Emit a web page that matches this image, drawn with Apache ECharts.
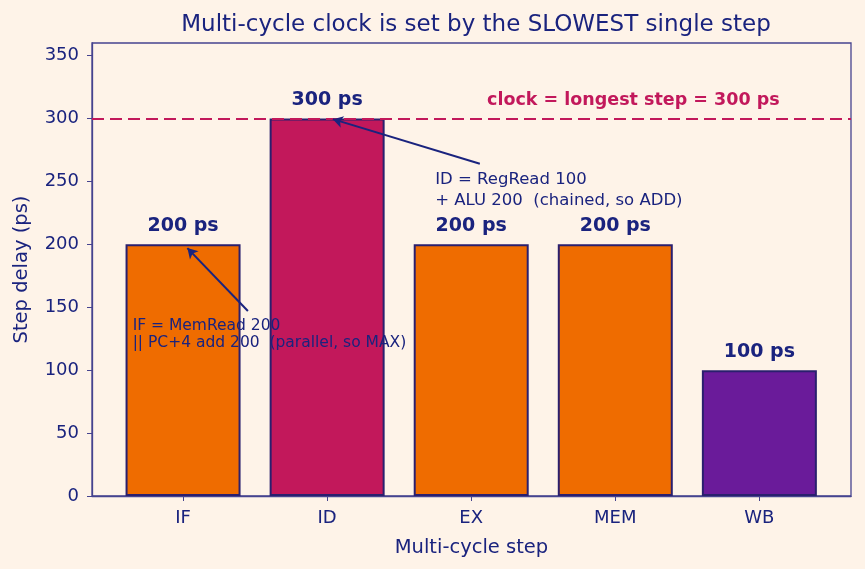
<!DOCTYPE html>
<html>
<head>
<meta charset="utf-8">
<script src="https://cdn.jsdelivr.net/npm/echarts@6/dist/echarts.min.js"></script>
<style>
  html, body { margin: 0; padding: 0; background: #fef3e8; }
  #chart { width: 865px; height: 569px; }
</style>
</head>
<body>
<div id="chart"></div>
<script>
const steps = ['IF', 'ID', 'EX', 'MEM', 'WB']
const delays = [200, 300, 200, 200, 100]
const barColors = ['#ef6c00', '#c2185b', '#ef6c00', '#ef6c00', '#6a1b9a']
const clockPs = 300
const yTicks = [0, 50, 100, 150, 200, 250, 300, 350]

const ink = '#1a237e'
const frame = '#45438f'
const font = 'DejaVu Sans'

const chart = echarts.init(document.getElementById('chart'))

const option = {
  backgroundColor: '#fef3e8',
  animation: false,
  textStyle: { fontFamily: font },
  title: {
    text: 'Multi-cycle clock is set by the SLOWEST single step',
    left: 471,
    textAlign: 'center',
    top: 9,
    textStyle: { color: ink, fontSize: 23, fontWeight: 'normal', fontFamily: font }
  },
  grid: {
    left: 92, right: 14, top: 43, bottom: 73,
    show: true, borderColor: frame, borderWidth: 1.3, backgroundColor: 'transparent'
  },
  xAxis: {
    type: 'value',
    min: -0.632,
    max: 4.636,
    name: 'Multi-cycle step',
    nameLocation: 'middle',
    nameGap: 42,
    nameTextStyle: { color: ink, fontSize: 19.5, fontFamily: font },
    splitLine: { show: false },
    axisLine: { show: true, onZero: false, lineStyle: { color: frame, width: 1.3 } },
    axisTick: { show: true, customValues: [0, 1, 2, 3, 4], length: 5, lineStyle: { color: frame } },
    axisLabel: {
      customValues: [0, 1, 2, 3, 4],
      color: ink, fontSize: 18, margin: 13, fontFamily: font,
      formatter: v => steps[Math.round(v)]
    }
  },
  yAxis: {
    type: 'value',
    min: 0,
    max: 360,
    name: 'Step delay (ps)',
    nameLocation: 'middle',
    nameGap: 60,
    nameTextStyle: { color: ink, fontSize: 19.5, fontFamily: font },
    splitLine: { show: false },
    axisLine: { show: true, onZero: false, lineStyle: { color: frame, width: 1.3 } },
    axisTick: { show: true, customValues: yTicks, length: 5, lineStyle: { color: frame } },
    axisLabel: { customValues: yTicks, color: ink, fontSize: 18, margin: 13, fontFamily: font }
  },
  series: [
    {
      type: 'bar',
      barWidth: 115,
      data: delays.map((d, i) => ({
        value: [i, d],
        itemStyle: { color: barColors[i], borderColor: '#2a1f6e', borderWidth: 2 }
      })),
      label: {
        show: true,
        position: 'top',
        distance: 9,
        color: ink,
        fontSize: 19,
        fontWeight: 'bold',
        fontFamily: font,
        formatter: p => p.value[1] + ' ps'
      },
      markLine: {
        silent: true,
        symbol: ['none', 'none'],
        label: { show: false },
        lineStyle: { color: '#c2185b', type: [12, 6], width: 2.2 },
        data: [{ yAxis: clockPs }]
      },
      z: 2
    },
    {
      type: 'line',
      silent: true,
      data: [],
      markLine: {
        silent: true,
        symbol: ['none', 'arrow'],
        symbolSize: [9, 10],
        label: { show: false },
        lineStyle: { color: ink, type: 'solid', width: 2 },
        data: [
          [{ coord: [0.45, 147] }, { coord: [0.03, 197] }],
          [{ coord: [2.06, 264] }, { coord: [1.04, 299.5] }]
        ]
      },
      z: 5
    }
  ]
}
chart.setOption(option)

// annotation texts placed at data coordinates
const notes = [
  { at: [2.11, 314], text: 'clock = longest step = 300 ps', color: '#c2185b', size: 17.5, weight: 'bold', lh: 20 },
  { at: [-0.35, 128], text: 'IF = MemRead 200\n|| PC+4 add 200  (parallel, so MAX)', color: ink, size: 15.5, weight: 'normal', lh: 17 },
  { at: [1.75, 243], text: 'ID = RegRead 100\n+ ALU 200  (chained, so ADD)', color: ink, size: 16.5, weight: 'normal', lh: 21 }
]
chart.setOption({
  graphic: notes.map(n => {
    const p = chart.convertToPixel({ gridIndex: 0 }, n.at)
    return {
      type: 'text',
      x: p[0],
      y: p[1],
      z: 10,
      style: {
        text: n.text,
        fill: n.color,
        font: n.weight + ' ' + n.size + 'px "DejaVu Sans"',
        lineHeight: n.lh,
        textAlign: 'left',
        textVerticalAlign: 'middle'
      }
    }
  })
})
</script>
</body>
</html>
